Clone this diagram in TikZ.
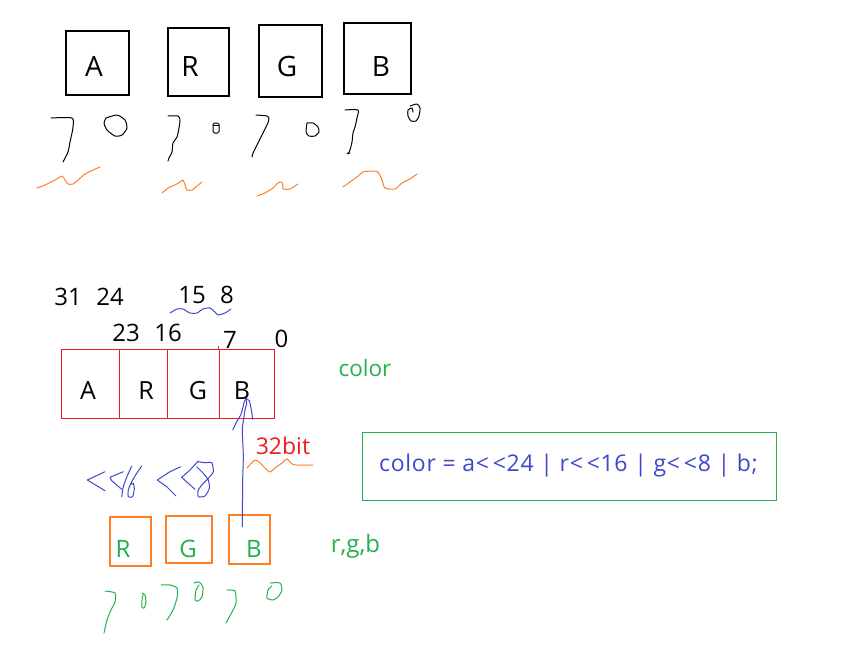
\documentclass[tikz,border=0pt]{standalone}
\usepackage{fontspec}
\setmainfont{Open Sans}
\definecolor{pred}{HTML}{ED1C24}
\definecolor{porange}{HTML}{FF7F27}
\definecolor{pgreen}{HTML}{22B14C}
\definecolor{pblue}{HTML}{3F48CC}
\tikzset{
  topbox/.style={draw=black, line width=1.2pt, inner sep=0pt},
  cell/.style={draw=pred, line width=1pt, inner sep=0pt, minimum height=69pt},
  lowbox/.style={draw=porange, line width=1.2pt, inner sep=0pt},
  lab/.style={anchor=base, inner sep=0pt, font=\fontsize{#1}{#1}\selectfont},
  lab/.default=24,
  stroke/.style={line width=1pt, line join=round, line cap=round},
  scrib/.style={stroke, smooth, tension=0.4},
}
\begin{document}
\begin{tikzpicture}[x=1pt, y=-1pt]
\useasboundingbox (0,0) rectangle (862,649);
\fill[white] (0,0) rectangle (862,649);

% ---- top boxes ----
\node[topbox, minimum width=63pt, minimum height=64pt] (boxA) at (97.5,63) {};
\node[topbox, minimum width=61pt, minimum height=68pt] (boxR) at (198.5,62) {};
\node[topbox, minimum width=63pt, minimum height=72pt] (boxG) at (290.5,61) {};
\node[topbox, minimum width=67pt, minimum height=71pt] (boxB) at (377.5,58.5) {};
\node[lab=28] (tA) at (94,76) {A};
\node[lab=28] (tR) at (190,76) {R};
\node[lab=28] (tG) at (287,76) {G};
\node[lab=28] (tB) at (381,76) {B};

% ---- hand-drawn 7s and 0s (black) ----
\draw[scrib] plot coordinates {(51,118) (72,118) (73,127) (72,133) (70,142) (68,152) (63,162)};
\draw[scrib] plot coordinates {(106,118) (117,115) (125,120) (127,128) (122,135) (115,136) (107,130) (104,123) (106,118)};
\draw[scrib] plot coordinates {(168,116) (178,116) (180,120) (179,128) (177,137) (173,143) (172,152) (169,158) (168,161)};
\draw[stroke, rounded corners=1.5pt] (213,123) rectangle (219,133);
\draw[stroke] (213,125.5) -- (219,125.5);
\draw[scrib] plot coordinates {(256,115) (267,116) (269,119) (267,125) (262,135) (257,145) (253,153) (252,157)};
\draw[scrib] plot coordinates {(307,123) (313,123) (318,127) (319,132) (315,136) (309,136) (306,132) (307,123)};
\draw[scrib] plot coordinates {(345,110) (358,110) (357,118) (355,127) (353,133) (352,142) (350,150) (348,154)};
\draw[stroke] (347,153.5) -- (350,153);
\draw[scrib] plot coordinates {(410,106) (417,104) (420,108) (419,116) (416,121) (411,121) (408,116) (408,110) (412,108) (413,112)};

% ---- orange waves (top) ----
\draw[scrib, porange] plot coordinates {(37,188) (45,185) (55,180) (62,176) (65,180) (68,184) (73,184) (78,180) (85,174) (93,170) (100,167)};
\draw[scrib, porange] plot coordinates {(162,193) (168,188) (175,185) (180,182) (183,180) (185,185) (187,190) (192,190) (197,186) (202,182)};
\draw[scrib, porange] plot coordinates {(257,196) (265,193) (273,188) (278,183) (282,182) (283,187) (283,189) (290,189) (298,184)};
\draw[scrib, porange] plot coordinates {(343,187) (350,182) (357,177) (363,172) (372,171) (378,172) (382,180) (385,188) (395,189) (402,183) (410,179) (417,174)};

% ---- bit numbers ----
\node[lab] (n31) at (68,305) {31};
\node[lab] (n24) at (110,305) {24};
\node[lab] (n15) at (192,303) {15};
\node[lab] (n8) at (227,303) {8};
\node[lab] (n23) at (126,341) {23};
\node[lab] (n16) at (168,341) {16};
\node[lab] (n7) at (230,348) {7};
\node[lab] (n0) at (281.5,347) {0};
\draw[scrib, pblue] plot coordinates {(170,313) (177,309) (183,309) (190,313) (197,313) (203,309) (210,308) (215,312) (218,315) (225,313) (231,309)};

% ---- red 32-bit cell ----
\node[cell, minimum width=58pt] (cA) at (90,383.5) {};
\node[cell, minimum width=48pt] (cR) at (143,383.5) {};
\node[cell, minimum width=52pt] (cG) at (193,383.5) {};
\node[cell, minimum width=55pt] (cB) at (246.5,383.5) {};
\draw[pred, line width=1pt] (cB.north west) -- ++(0,-2.5);
\node[lab=25] (lA) at (88,399) {A};
\node[lab=25] (lR) at (146,399) {R};
\node[lab=25] (lG) at (198,399) {G};
\node[lab=25] (lB) at (242,399) {B};

\node[lab=22.5, text=pgreen] (colorlab) at (365,376) {color};

% ---- 32bit ----
\node[lab=23, text=pred] (bits) at (283,454) {32bit};
\draw[scrib, porange] plot coordinates {(247,468) (255,460) (260,463) (265,468) (270,472) (275,468) (282,463) (287,459) (292,464) (297,465) (313,465)};

% ---- formula ----
\node[draw=pgreen, line width=1pt, minimum width=414pt, minimum height=68pt, inner sep=0pt] (formbox) at (569,466) {};
\node[lab=23, text=pblue, font=\fontsize{23}{23}\selectfont\addfontfeature{LetterSpace=3}] (form) at (568.5,471) {color = a{<}\,{<}24 | r{<}\,{<}16 | g{<}\,{<}8 | b;};

% ---- lower boxes ----
\node[lowbox, minimum width=41pt, minimum height=49pt] (bR) at (130.5,541.5) {};
\node[lowbox, minimum width=46pt, minimum height=47pt] (bG) at (189,539.5) {};
\node[lowbox, minimum width=41pt, minimum height=49pt] (bB) at (249.5,539.5) {};
\node[lab=24, text=pgreen] (gR) at (123,557.5) {R};
\node[lab=24, text=pgreen] (gG) at (188,557.5) {G};
\node[lab=24, text=pgreen] (gB) at (254,557.5) {B};
\node[lab=24, text=pgreen] (rgblab) at (355.5,552) {r,g,b};

% ---- blue hand-drawn arrow from lower B up to cell B ----
\coordinate (arrS) at (242.3,526.7);
\coordinate (arrE) at (246,398.5);
\draw[scrib, pblue] plot coordinates {(arrS) (242.7,480) (243.3,456.7) (242.3,430) (243.3,421.7) (245,410) (246.7,403.3) (arrE)};
\draw[scrib, pblue] plot coordinates {(232.7,430) (236.7,421.7) (240.7,415) (242.7,408.3) (244.3,401.7) (arrE)};
\draw[scrib, pblue] plot coordinates {(arrE) (249.3,400.7) (250.7,406.7) (251.7,411.7) (252.7,419.3)};

% ---- blue << scribbles ----
\draw[stroke, pblue] (105,471.7) -- (87.3,480) -- (105,490.7);
\draw[stroke, pblue] (123.3,471.7) -- (110,477.3) -- (111.7,480.7) -- (121.7,489.3);
\draw[scrib, pblue] plot coordinates {(121.7,496.7) (123.3,486.7) (126.7,477.3) (131.7,466)};
\draw[scrib, pblue] plot coordinates {(141.7,466) (136.7,473.3) (131.7,481.7) (128.3,490) (128.3,496.7) (132.7,496.7) (134.3,488.3) (133.3,483.3) (131.7,484.3)};
\draw[stroke, pblue] (180.7,466.7) -- (170,471.7) -- (157.3,480) -- (166.7,486.7) -- (176,496);
\draw[stroke, pblue] (198.3,461) -- (190,470) -- (181.7,477.3) -- (188.3,483.3) -- (195,489.3);
\draw[scrib, pblue] plot coordinates {(198.3,461.7) (205,462.7) (211.7,462.7) (213.3,471.7) (208.3,478.3) (203.3,483.3) (198.3,490) (198.3,496.7) (205,496) (209.3,488.3) (208.3,480) (203.3,473.3) (200,470) (196.7,466.7)};

% ---- green 7s and 0s ----
\draw[scrib, pgreen] plot coordinates {(105,591) (115,593) (115,602) (111,610) (107,620) (104,633)};
\draw[scrib, pgreen] plot coordinates {(142,593) (145,595) (146,603) (144,608) (142,607) (142,600) (143,595)};
\draw[scrib, pgreen] plot coordinates {(161,585) (170,585) (177,588) (177,598) (173,610) (167,620)};
\draw[scrib, pgreen] plot coordinates {(194,583) (199,582) (203,587) (202,597) (198,601) (195,600) (196,590) (199,585)};
\draw[scrib, pgreen] plot coordinates {(227,590) (235,591) (236,603) (232,612) (226,623)};
\draw[scrib, pgreen] plot coordinates {(270,583) (280,583) (282,590) (278,597) (273,600) (267,598) (268,590) (272,586)};
\end{tikzpicture}
\end{document}
